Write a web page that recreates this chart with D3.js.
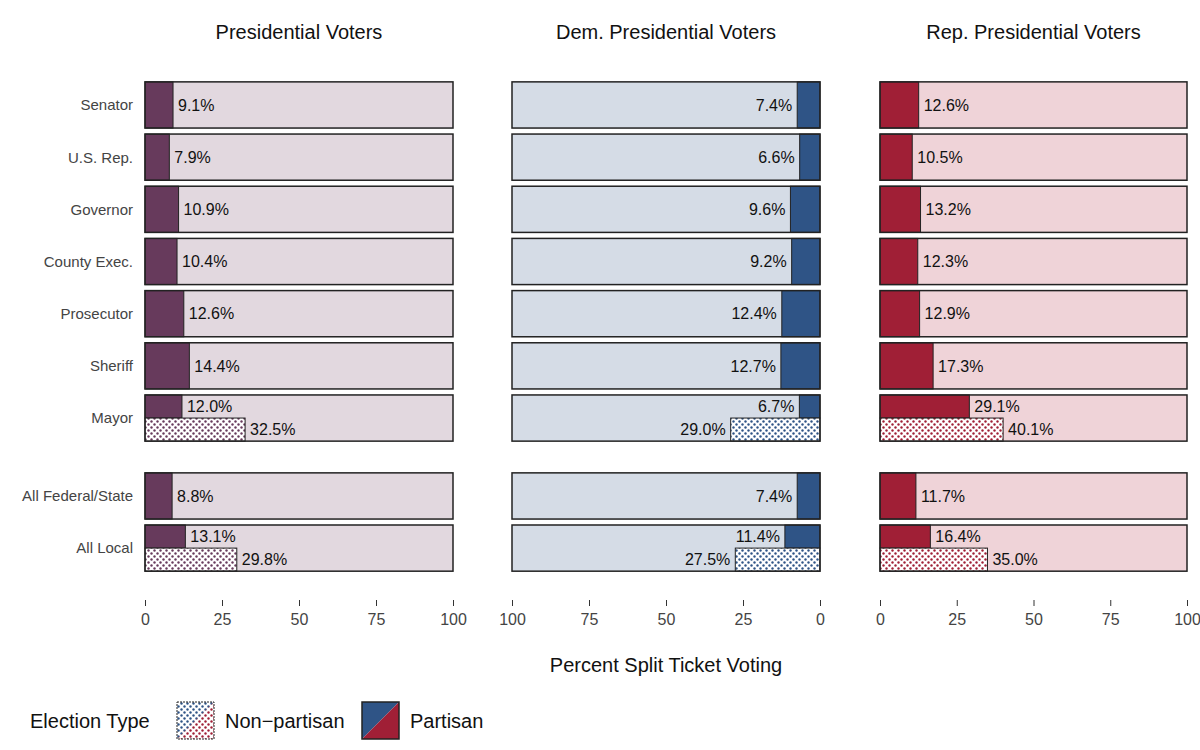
<!DOCTYPE html>
<html><head><meta charset="utf-8">
<script src="https://cdn.jsdelivr.net/npm/d3@7/dist/d3.min.js"></script>
<style>body{margin:0;background:#fff}text{font-family:"Helvetica Neue",Helvetica,"Liberation Sans",Arial,sans-serif}</style>
</head><body><svg id="c" width="1200" height="750"></svg>
<script>
const rowsA = ["Senator","U.S. Rep.","Governor","County Exec.","Prosecutor","Sheriff","Mayor"];
const rowsB = ["All Federal/State","All Local"];
const panels = ["Presidential Voters","Dem. Presidential Voters","Rep. Presidential Voters"];
const partisanAll = [8.8, 7.4, 11.7];
const partisan = {
  "Presidential Voters":      [9.1,7.9,10.9,10.4,12.6,14.4,12.0, 8.8,13.1],
  "Dem. Presidential Voters": [7.4,6.6,9.6,9.2,12.4,12.7,6.7, 7.4,11.4],
  "Rep. Presidential Voters": [12.6,10.5,13.2,12.3,12.9,17.3,29.1, 11.7,16.4]
};
const nonpartisan = { // Mayor, All Local
  "Presidential Voters":[32.5,29.8],
  "Dem. Presidential Voters":[29.0,27.5],
  "Rep. Presidential Voters":[40.1,35.0]
};
const ticks = [0,25,50,75,100];
const fills = ["#673a5c","#2f5486","#a01f36"];
const bgs = ["#e2d8df","#d5dce6","#efd3d8"];
const px = [[145,453],[512,820],[880,1187]];

const svg = d3.select("#c");
const defs = svg.append("defs");
fills.forEach((c,i)=>{
  const p = defs.append("pattern").attr("id","pat"+i).attr("patternUnits","userSpaceOnUse").attr("width",6).attr("height",6);
  p.append("rect").attr("width",6).attr("height",6).attr("fill","#fff");
  p.append("circle").attr("cx",1.5).attr("cy",1.5).attr("r",1.2).attr("fill",c);
  p.append("circle").attr("cx",4.5).attr("cy",4.5).attr("r",1.2).attr("fill",c);
});
const yA = d3.scaleBand().domain(rowsA).range([79,444]).paddingInner(0.115).paddingOuter(0.055);
const yB = d3.scaleBand().domain(rowsB).range([470,574]).paddingInner(0.115).paddingOuter(0.055);
const allRows = rowsA.concat(rowsB);
const yOf = r => rowsA.includes(r) ? yA(r) : yB(r);
const bw = yA.bandwidth();

panels.forEach((pn,i)=>{
  const x = d3.scaleLinear().domain([0,100]).range(i===1 ? [px[i][1],px[i][0]] : px[i]);
  const g = svg.append("g");
  g.append("text").attr("x",(px[i][0]+px[i][1])/2).attr("y",39).attr("text-anchor","middle").attr("font-size",20).attr("fill","#111").text(pn);
  allRows.forEach((r,j)=>{
    const y0 = yOf(r);
    const v = partisan[pn][j];
    const split = (r==="Mayor"||r==="All Local");
    g.append("rect").attr("x",px[i][0]).attr("y",y0).attr("width",px[i][1]-px[i][0]).attr("height",bw).attr("fill",bgs[i]);
    const h = split ? bw/2 : bw;
    const xa = Math.min(x(0),x(v)), wa = Math.abs(x(v)-x(0));
    g.append("rect").attr("x",xa).attr("y",y0).attr("width",wa).attr("height",h).attr("fill",fills[i]).attr("stroke","#222").attr("stroke-width",1);
    const lab = (xx,yy,t)=>g.append("text").attr("x",i===1?xx-5:xx+5).attr("y",yy).attr("dy","0.36em")
      .attr("text-anchor",i===1?"end":"start").attr("font-size",16).attr("fill","#111").text(t.toFixed(1)+"%");
    lab(x(v), y0+h/2, v);
    if(split){
      const nv = nonpartisan[pn][r==="Mayor"?0:1];
      const xb = Math.min(x(0),x(nv)), wb = Math.abs(x(nv)-x(0));
      g.append("rect").attr("x",xb).attr("y",y0+bw/2).attr("width",wb).attr("height",bw/2).attr("fill",`url(#pat${i})`).attr("stroke","#222").attr("stroke-width",1);
      lab(x(nv), y0+bw*0.75, nv);
    }
    g.append("rect").attr("x",px[i][0]).attr("y",y0).attr("width",px[i][1]-px[i][0]).attr("height",bw).attr("fill","none").attr("stroke","#222").attr("stroke-width",1.5);
  });
  const ax = g.append("g").attr("transform","translate(0,600)").call(d3.axisBottom(x).tickValues(ticks).tickSize(6).tickPadding(8));
  ax.select(".domain").remove();
  ax.selectAll("line").attr("stroke","#333");
  ax.selectAll("text").attr("font-size",16).attr("fill","#444");
  if(i===0){
    allRows.forEach(r=>g.append("text").attr("x",133).attr("y",yOf(r)+bw/2).attr("dy","0.36em").attr("text-anchor","end").attr("font-size",15).attr("fill","#444").text(r));
  }
});
svg.append("text").attr("x",666).attr("y",672).attr("text-anchor","middle").attr("font-size",20).attr("fill","#111").text("Percent Split Ticket Voting");

// legend
const lg = svg.append("g");
lg.append("text").attr("x",30).attr("y",728).attr("font-size",20).attr("fill","#111").text("Election Type");
const lp = defs.append("pattern").attr("id","patL").attr("patternUnits","userSpaceOnUse").attr("width",6).attr("height",6);
lg.append("clipPath").attr("id","clTL").append("path").attr("d","M177,702 L214,702 L177,739Z");
lg.append("rect").attr("x",177).attr("y",702).attr("width",37).attr("height",37).attr("fill","url(#pat2)");
lg.append("rect").attr("x",177).attr("y",702).attr("width",37).attr("height",37).attr("fill","url(#pat1)").attr("clip-path","url(#clTL)");
lg.append("rect").attr("x",177).attr("y",702).attr("width",37).attr("height",37).attr("fill","none").attr("stroke","#222").attr("stroke-dasharray","2,1");
lg.append("text").attr("x",225).attr("y",728).attr("font-size",20).attr("fill","#111").text("Non\u2212partisan");
lg.append("path").attr("d","M362,702 L399,702 L362,739Z").attr("fill",fills[1]);
lg.append("path").attr("d","M399,702 L399,739 L362,739Z").attr("fill",fills[2]);
lg.append("rect").attr("x",362).attr("y",702).attr("width",37).attr("height",37).attr("fill","none").attr("stroke","#222").attr("stroke-width",1.5);
lg.append("text").attr("x",410).attr("y",728).attr("font-size",20).attr("fill","#111").text("Partisan");
</script></body></html>
